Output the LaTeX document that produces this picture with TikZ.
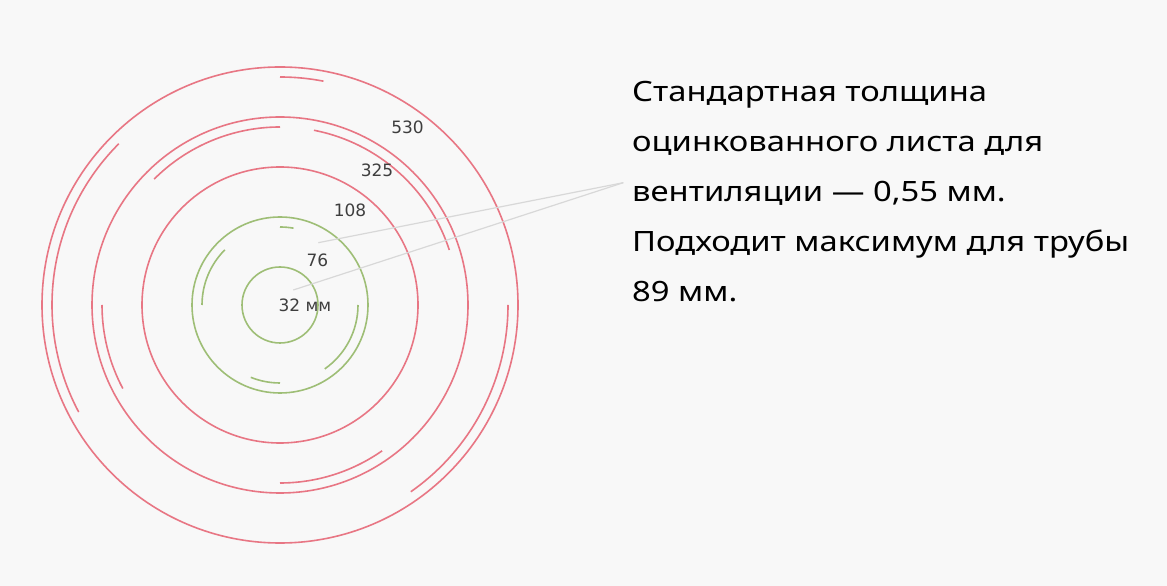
\documentclass[tikz,border=0pt]{standalone}
\usepackage{fontspec}
\setmainfont{Noto Sans}
\newfontfamily\notefont[FakeStretch=1.17]{Noto Sans}
\newfontfamily\sizefont{DejaVu Sans}
\usetikzlibrary{positioning}
\definecolor{paper}{RGB}{248,248,248}
\definecolor{ringred}{RGB}{232,118,132}
\definecolor{ringgreen}{RGB}{158,190,118}
\definecolor{leadgray}{RGB}{216,216,216}
\definecolor{sizegray}{RGB}{62,62,62}

\begin{document}
\begin{tikzpicture}[x=1pt, y=1pt,
  redring/.style={draw=ringred, line width=1.6pt},
  greenring/.style={draw=ringgreen, line width=1.6pt},
  lead/.style={draw=leadgray, line width=1.2pt},
  dia/.style={font=\sizefont\fontsize{17}{20}\selectfont, text=sizegray, inner sep=0pt},
  note/.style={font=\notefont\fontsize{28}{49.8}\selectfont, align=left, inner sep=0pt, anchor=north west}]
  \fill[paper] (0,0) rectangle (1167,586);
  \useasboundingbox (0,0) rectangle (1167,586);
  \coordinate (c) at (280,281);
  % pipe rings
  \draw[greenring] (c) circle[radius=38];
  \draw[greenring] (c) circle[radius=88];
  \draw[redring] (c) circle[radius=138];
  \draw[redring] (c) circle[radius=188];
  \draw[redring] (c) circle[radius=238];
  % inner seams
  \foreach \a/\b in {80/90, 135/180, -55/0, -112/-90}
    \draw[greenring] (c) ++(\a:78) arc[start angle=\a, end angle=\b, radius=78];
  \foreach \a/\b in {90/135, 18/79, 180/208, -90/-55}
    \draw[redring] (c) ++(\a:178) arc[start angle=\a, end angle=\b, radius=178];
  \foreach \a/\b in {79/90, 135/208, -55/0}
    \draw[redring] (c) ++(\a:228) arc[start angle=\a, end angle=\b, radius=228];
  % leader lines
  \coordinate (tip) at (623.3,403.3);
  \coordinate (p76) at (318.3,343.3);
  \coordinate (p32) at (293.3,296);
  \draw[lead] (tip) -- (p76);
  \draw[lead] (tip) -- (p32);
  % sizes
  \node[dia] (d530) at (407.5,458.5) {530};
  \node[dia] (d325) at (377,415.3) {325};
  \node[dia] (d108) at (350,375.5) {108};
  \node[dia] (d76) at (317.5,326) {76};
  \node[dia] (d32) at (305,281) {32 мм};
  \node[note] (note) at (632,504.6) {Стандартная толщина\\оцинкованного листа для\\вентиляции — 0,55 мм.\\Подходит максимум для трубы\\89 мм.};
\end{tikzpicture}
\end{document}
